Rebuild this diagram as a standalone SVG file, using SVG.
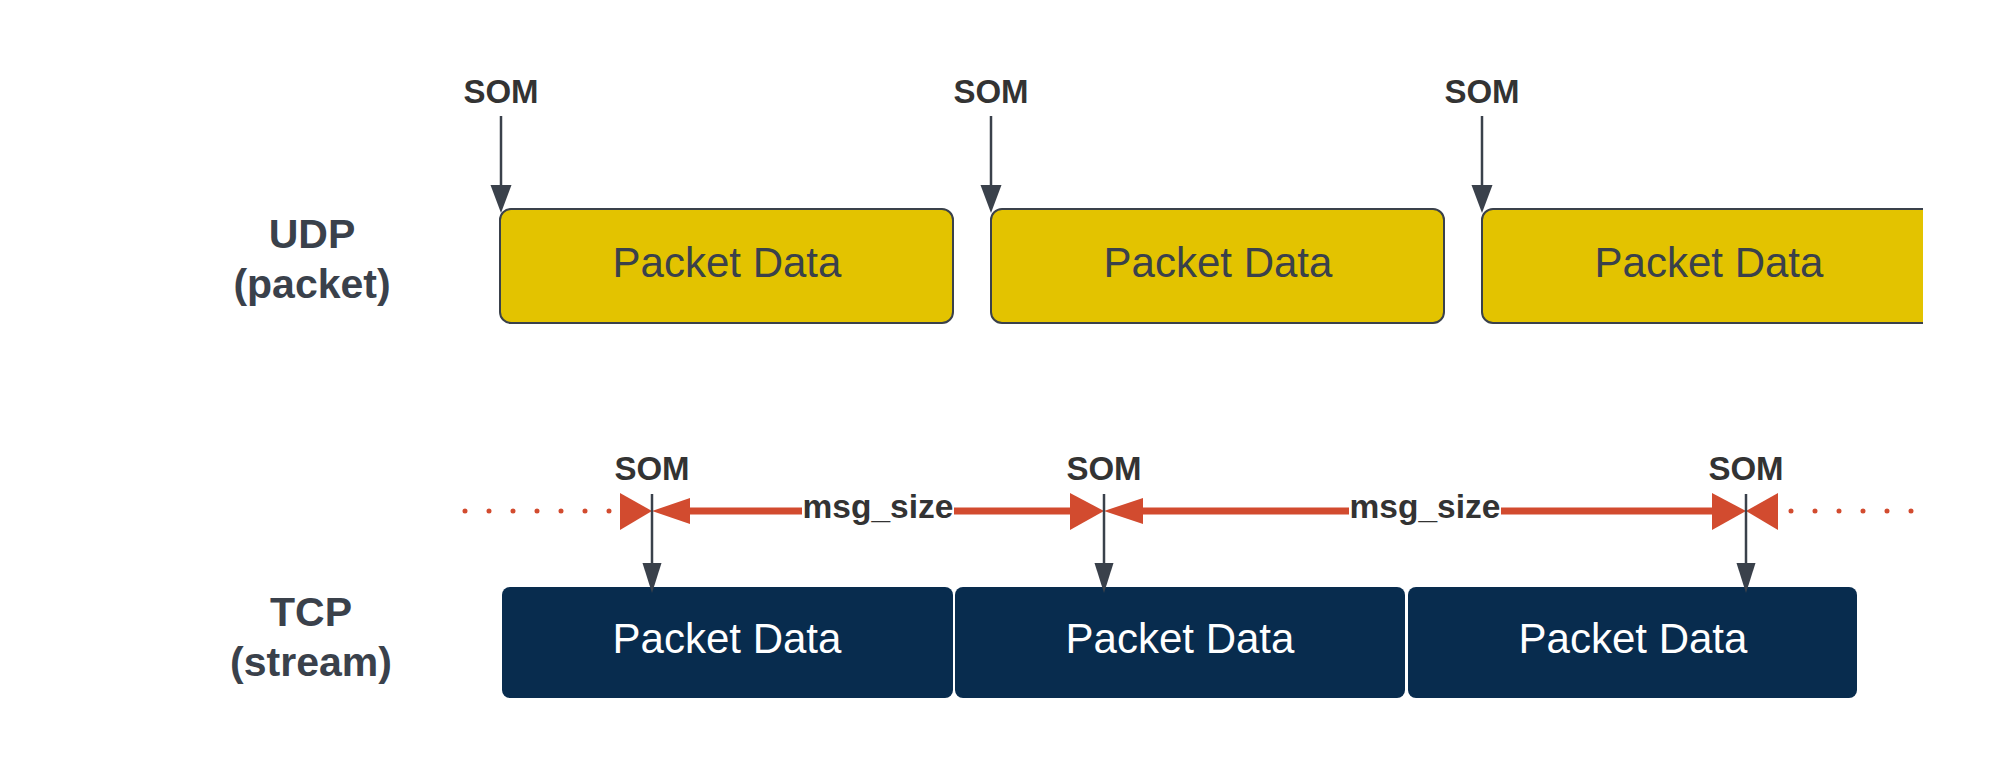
<svg xmlns="http://www.w3.org/2000/svg" width="2000" height="775" viewBox="0 0 2000 775">
<style>
.lbl{font-family:"Liberation Sans",Arial,sans-serif;font-weight:bold;font-size:41px;fill:#3a414b;text-anchor:middle}
.som{font-family:"Liberation Sans",Arial,sans-serif;font-weight:bold;font-size:33px;fill:#333333;text-anchor:middle}
.msg{font-family:"Liberation Sans",Arial,sans-serif;font-weight:bold;font-size:33.5px;fill:#333333;text-anchor:middle}
.pd{font-family:"Liberation Sans",Arial,sans-serif;font-size:42px;text-anchor:middle}
.udp{fill:#e3c300;stroke:#3a414b;stroke-width:2}
.tcp{fill:#082c4e;stroke:none}
.ptr{stroke:#3a414b;stroke-width:2.5;fill:none}
.red{stroke:#d24b2f;stroke-width:7;fill:none}
.dots{stroke:#d24b2f;stroke-width:5;stroke-linecap:round;stroke-dasharray:0 24;fill:none}
.rh{fill:#d24b2f}
.ph{fill:#3a414b}
</style>
<defs>
<clipPath id="clip3"><rect x="1470" y="190" width="453" height="150"/></clipPath>
</defs>
<rect width="2000" height="775" fill="#ffffff"/>

<g id="udp-label"><text class="lbl" x="312" y="248">UDP</text><text class="lbl" x="312" y="298">(packet)</text></g>
<g id="tcp-label"><text class="lbl" x="311" y="626">TCP</text><text class="lbl" x="311" y="676">(stream)</text></g>

<g id="udp-packet-1"><rect class="udp" x="500" y="209" width="453" height="114" rx="11"/><text class="pd" x="727" y="277" fill="#3a414b">Packet Data</text></g>
<g id="udp-packet-2"><rect class="udp" x="991" y="209" width="453" height="114" rx="11"/><text class="pd" x="1218" y="277" fill="#3a414b">Packet Data</text></g>
<g id="udp-packet-3"><g clip-path="url(#clip3)"><rect class="udp" x="1482" y="209" width="460" height="114" rx="11"/></g><text class="pd" x="1709" y="277" fill="#3a414b">Packet Data</text></g>

<g id="tcp-packet-1"><rect class="tcp" x="502" y="587" width="451" height="111" rx="8"/><text class="pd" x="727" y="653" fill="#ffffff">Packet Data</text></g>
<g id="tcp-packet-2"><rect class="tcp" x="955" y="587" width="450" height="111" rx="8"/><text class="pd" x="1180" y="653" fill="#ffffff">Packet Data</text></g>
<g id="tcp-packet-3"><rect class="tcp" x="1408" y="587" width="449" height="111" rx="8"/><text class="pd" x="1633" y="653" fill="#ffffff">Packet Data</text></g>

<g id="som-labels">
<text class="som" x="501" y="103">SOM</text>
<text class="som" x="991" y="103">SOM</text>
<text class="som" x="1482" y="103">SOM</text>
<text class="som" x="652" y="480">SOM</text>
<text class="som" x="1104" y="480">SOM</text>
<text class="som" x="1746" y="480">SOM</text>
<text class="msg" x="878" y="518">msg_size</text>
<text class="msg" x="1425" y="518">msg_size</text>
</g>

<g id="connectors">
<path class="dots" d="M465 511 H612"/>
<path class="dots" d="M1791 511 H1912"/>
<path class="red" d="M688 511 H802 M954 511 H1072"/>
<path class="red" d="M1142 511 H1349 M1501 511 H1714"/>
<polygon class="rh" points="620,493 652,511 620,530"/>
<polygon class="rh" points="690,498 652,511 690,524"/>
<polygon class="rh" points="1070,493 1104,511 1070,530"/>
<polygon class="rh" points="1143,498 1104,511 1143,524"/>
<polygon class="rh" points="1712,493 1746,511 1712,530"/>
<polygon class="rh" points="1778,493 1746,511 1778,530"/>

<path class="ptr" d="M501 116 V190"/><polygon class="ph" points="490.5,185 511.5,185 501,213"/>
<path class="ptr" d="M991 116 V190"/><polygon class="ph" points="980.5,185 1001.5,185 991,213"/>
<path class="ptr" d="M1482 116 V190"/><polygon class="ph" points="1471.5,185 1492.5,185 1482,213"/>
<path class="ptr" d="M652 494 V568"/><polygon class="ph" points="642.5,563 661.5,563 652,593"/>
<path class="ptr" d="M1104 494 V568"/><polygon class="ph" points="1094.5,563 1113.5,563 1104,593"/>
<path class="ptr" d="M1746 494 V568"/><polygon class="ph" points="1736.5,563 1755.5,563 1746,593"/>
</g>
</svg>
